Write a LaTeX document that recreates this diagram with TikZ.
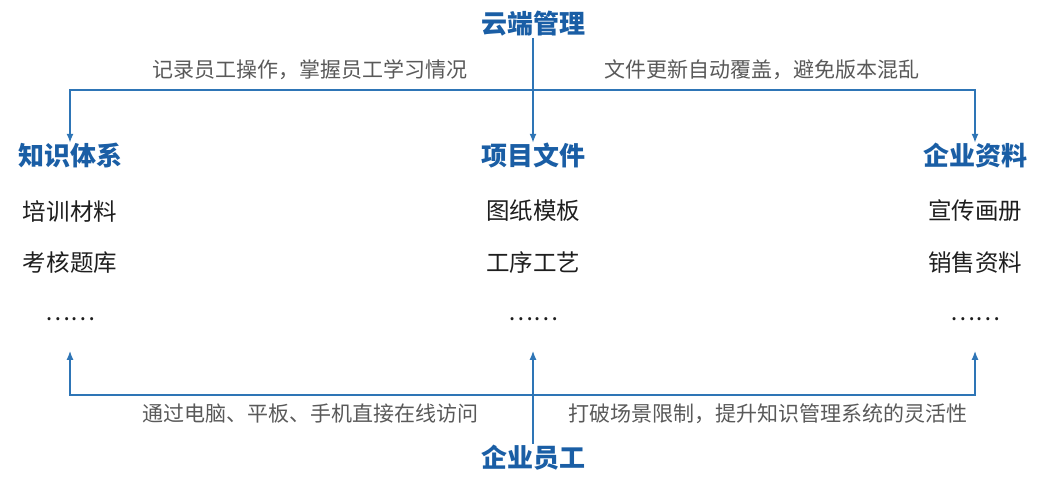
\documentclass[tikz,border=0pt]{standalone}
\usepackage{fontspec}
\usetikzlibrary{arrows.meta}
\setmainfont{Noto Sans CJK SC}
\newfontfamily\headfont{Noto Sans CJK SC Black}
\definecolor{headblue}{RGB}{26,94,165}
\definecolor{lineblue}{RGB}{46,117,182}
\definecolor{notegray}{RGB}{89,89,89}
\definecolor{itemblack}{RGB}{30,30,30}
\begin{document}
\begin{tikzpicture}[x=1pt,y=-1pt,
	head/.style={font=\fontsize{26}{26}\selectfont\headfont,text=headblue,inner sep=0pt,text height=0.88em,text depth=0.12em},
	item/.style={font=\fontsize{23.5}{23.5}\selectfont,text=itemblack,inner sep=0pt},
	note/.style={font=\fontsize{21}{21}\selectfont,text=notegray,inner sep=0pt},
	link/.style={draw=lineblue,line width=1.5pt,-{Latex[length=9pt,width=7pt]}}]
	\useasboundingbox (0,0) rectangle (1046,488);
	\node [head] (cloud) at (533,30) {云端管理};
	\node [head] (know) at (70,162) {知识体系};
	\node [head] (proj) at (533,162) {项目文件};
	\node [head] (data) at (975,162) {企业资料};
	\node [head] (staff) at (533,464) {企业员工};
	\node [item] (knowA) at (70,211) {培训材料};
	\node [item] (knowB) at (70,263) {考核题库};
	\node [item] (knowC) at (70,319) {……};
	\node [item] (projA) at (533,211) {图纸模板};
	\node [item] (projB) at (533,263) {工序工艺};
	\node [item] (projC) at (533,319) {……};
	\node [item] (dataA) at (975,211) {宣传画册};
	\node [item] (dataB) at (975,263) {销售资料};
	\node [item] (dataC) at (975,319) {……};
	\coordinate (tophub) at (533,90);
	\coordinate (bothub) at (533,395);
	\draw [link,shorten <=3pt,shorten >=14pt] (cloud.south) -- (proj.north);
	\draw [link,shorten >=14pt] (tophub) -| (know.north);
	\draw [link,shorten >=14pt] (tophub) -| (data.north);
	\draw [link,shorten <=15pt,shorten >=30pt] (staff.north) -- (projC.south);
	\draw [link,shorten >=30pt] (bothub) -| (knowC.south);
	\draw [link,shorten >=30pt] (bothub) -| (dataC.south);
	\node [note] (noteA) at (310,70) {记录员工操作，掌握员工学习情况};
	\node [note] (noteB) at (762,70) {文件更新自动覆盖，避免版本混乱};
	\node [note] (noteC) at (310,414) {通过电脑、平板、手机直接在线访问};
	\node [note] (noteD) at (768,414) {打破场景限制，提升知识管理系统的灵活性};
\end{tikzpicture}
\end{document}
